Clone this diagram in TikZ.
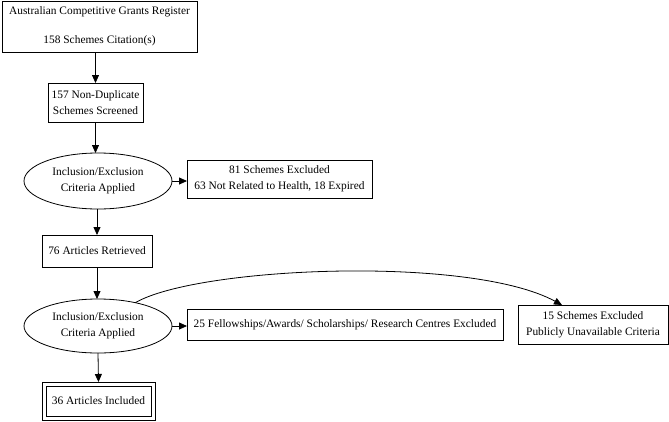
\documentclass[tikz,border=0pt]{standalone}
\usepackage{fontspec}
\setmainfont{Liberation Serif}
\usetikzlibrary{arrows.meta,shapes.geometric}
\begin{document}
\begin{tikzpicture}[x=1pt,y=-1pt,
  every node/.style={font=\fontsize{11.4}{16}\selectfont, align=center, inner sep=0pt, outer sep=0pt},
  box/.style={draw, line width=0.8pt, rectangle},
  oval/.style={draw, line width=0.8pt, ellipse},
  edge/.style={line width=0.8pt, -{Triangle[length=8pt,width=7pt]}}]
\useasboundingbox (0,0) rectangle (669,421);
\node[box, minimum width=195pt, minimum height=51pt] (reg) at (99.5,26.5)
  {Australian Competitive Grants Register\\[13pt]158 Schemes Citation(s)};
\node[box, minimum width=95pt, minimum height=39pt] (nd) at (95.5,102.5)
  {157 Non-Duplicate\\Schemes Screened};
\node[oval, minimum width=148pt, minimum height=56pt] (ie1) at (98,181)
  {Inclusion/Exclusion\\Criteria Applied};
\node[box, minimum width=185pt, minimum height=38pt] (ex81) at (279.5,179)
  {81 Schemes Excluded\\63 Not Related to Health, 18 Expired};
\node[box, minimum width=110pt, minimum height=32pt] (ret) at (97,251)
  {76 Articles Retrieved};
\node[oval, minimum width=148pt, minimum height=54pt] (ie2) at (98,326)
  {Inclusion/Exclusion\\Criteria Applied};
\node[box, minimum width=316pt, minimum height=31pt] (ex25) at (345,324.5)
  {25 Fellowships/Awards/ Scholarships/ Research Centres Excluded};
\node[box, minimum width=150pt, minimum height=39pt] (ex15) at (593,324.5)
  {15 Schemes Excluded\\Publicly Unavailable Criteria};
\node[box, minimum width=105pt, minimum height=30pt] (inc) at (98.5,401)
  {36 Articles Included};
\draw[line width=0.8pt] ([shift={(-4pt,-4pt)}]inc.south west) rectangle ([shift={(4pt,4pt)}]inc.north east);
\draw[edge] (reg.south -| nd.north) -- (nd.north);
\draw[edge] (nd.south) -- (nd.south |- ie1.north);
\draw[edge] (ie1.east) -- (ex81.west |- ie1.east);
\draw[edge] (ie1.south) -- (ie1.south -| ret.north) -- (ret.north);
\draw[edge] (ret.south) -- (ret.south |- ie2.north);
\draw[edge] (ie2.east) -- (ex25.west |- ie2.east);
\draw[edge] (ie2.south) -- ([yshift=4pt]inc.north);
\draw[edge] (ie2.32) .. controls +(62,-36) and +(-92,-50) .. ([xshift=-31pt]ex15.north);
\end{tikzpicture}
\end{document}
